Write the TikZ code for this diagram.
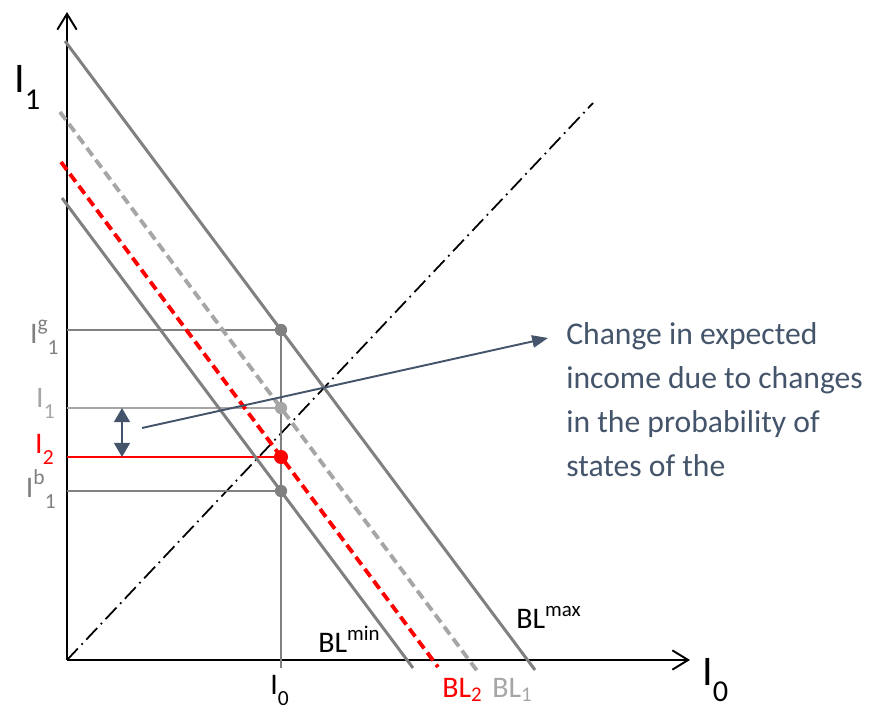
\documentclass[tikz,border=0pt]{standalone}
\usepackage{fontspec}
\setmainfont{Carlito}
\usetikzlibrary{arrows.meta}
\definecolor{bldark}{RGB}{128,128,128}
\definecolor{bllight}{RGB}{166,166,166}
\definecolor{slate}{RGB}{68,84,106}
\definecolor{brightred}{RGB}{255,0,0}
% small raised / lowered indices in text font
\newcommand{\dn}[1]{\raisebox{-0.38em}{\scalebox{0.72}{#1}}}
\newcommand{\up}[1]{\raisebox{0.42em}{\scalebox{0.72}{#1}}}

\begin{document}
\begin{tikzpicture}[
    x=0.02cm, y=-0.02cm,
    axis/.style={line width=1.1pt, -{Straight Barb[length=9pt,width=11pt]}},
    bl/.style={line width=1.7pt, bldark},
    bldash/.style={line width=2.2pt, dash pattern=on 5.5pt off 3pt},
    guide/.style={line width=1.1pt},
    dot/.style={circle, inner sep=0pt, minimum size=7pt},
    lbl/.style={font=\fontsize{17}{20}\selectfont, inner sep=0pt},
    big/.style={font=\fontsize{24}{28}\selectfont, inner sep=0pt},
    note/.style={slate, line width=1.1pt, -{Triangle[length=9pt,width=7pt]}},
    twin/.style={slate, line width=1.1pt, {Triangle[length=8pt,width=9pt]}-{Triangle[length=8pt,width=9pt]}}
  ]
  \useasboundingbox (0,0) rectangle (873,713);

  % axes
  \coordinate (o) at (67,660);
  \coordinate (ytop) at (67,12);
  \coordinate (xend) at (690,660);
  \draw[axis] (o) -- (ytop);
  \draw[axis] (o) -- (xend);
  \node[big, anchor=base west] (ylab) at (14,93) {I\dn{1}};
  \node[big, anchor=base west] (xlab) at (702,685) {I\dn{0}};

  % certainty line
  \coordinate (cert) at (593,103);
  \draw[line width=1pt, dash pattern=on 9pt off 3pt on 1pt off 3pt] (o) -- (cert);

  % guides to the points
  \coordinate (pg) at (281,330);
  \coordinate (p1) at (281,408);
  \coordinate (p2) at (281,457);
  \coordinate (pb) at (281,491);
  \coordinate (tick) at (281,668);
  \coordinate (ag) at (67,330);
  \coordinate (a1) at (67,408);
  \coordinate (a2) at (67,457);
  \coordinate (ab) at (67,491);
  \draw[guide, bldark] (pg) -- (tick);
  \draw[guide, bldark] (ag) -- (pg);
  \draw[guide, bllight] (a1) -- (p1);
  \draw[guide, brightred] (a2) -- (p2);
  \draw[guide, bldark] (ab) -- (pb);

  % budget lines
  \draw[bl] (65,41) -- (535,670);
  \draw[bldash, bllight] (60,112) -- (478,672);
  \draw[bldash, brightred] (61,162) -- (438,667);
  \draw[bl] (62,198) -- (413,668);

  % points
  \node[dot, fill=bldark] (dg) at (pg) {};
  \node[dot, fill=bllight] (d1) at (p1) {};
  \node[dot, fill=brightred, minimum size=8pt] (d2) at (p2) {};
  \node[dot, fill=bldark] (db) at (pb) {};

  % labels on the I1 axis
  \node[lbl, bldark, anchor=base east] (lg) at (59,343) {I\up{g}\dn{1}};
  \node[lbl, bllight, anchor=base east] (l1) at (55,407) {I\dn{1}};
  \node[lbl, brightred, anchor=base east] (l2) at (54,453) {I\dn{2}};
  \node[lbl, bldark, anchor=base east] (lb) at (56,497) {I\up{b}\dn{1}};
  \node[lbl, anchor=base west] (l0) at (270,694) {I\dn{0}};

  % budget line names
  \node[lbl, anchor=base west] (nmin) at (318,652) {BL\textsuperscript{min}};
  \node[lbl, anchor=base west] (nmax) at (516,628) {BL\textsuperscript{max}};
  \node[lbl, brightred, anchor=base west] (n2) at (442,697) {BL\textsubscript{2}};
  \node[lbl, bllight, anchor=base west] (n1) at (492,697) {BL\textsubscript{1}};

  % change in expected income
  \coordinate (ut) at (122,408);
  \coordinate (ub) at (122,457);
  \draw[twin] (ut) -- (ub);
  \node[slate, anchor=north west, align=left, inner sep=0pt,
        font=\fontsize{18}{25.1}\selectfont] (txt) at (566,322)
    {Change in expected\\income due to changes\\in the probability of\\states of the};
  \coordinate (ns) at (142,428);
  \coordinate (ne) at (548,338);
  \draw[note] (ns) -- (ne);
\end{tikzpicture}
\end{document}
